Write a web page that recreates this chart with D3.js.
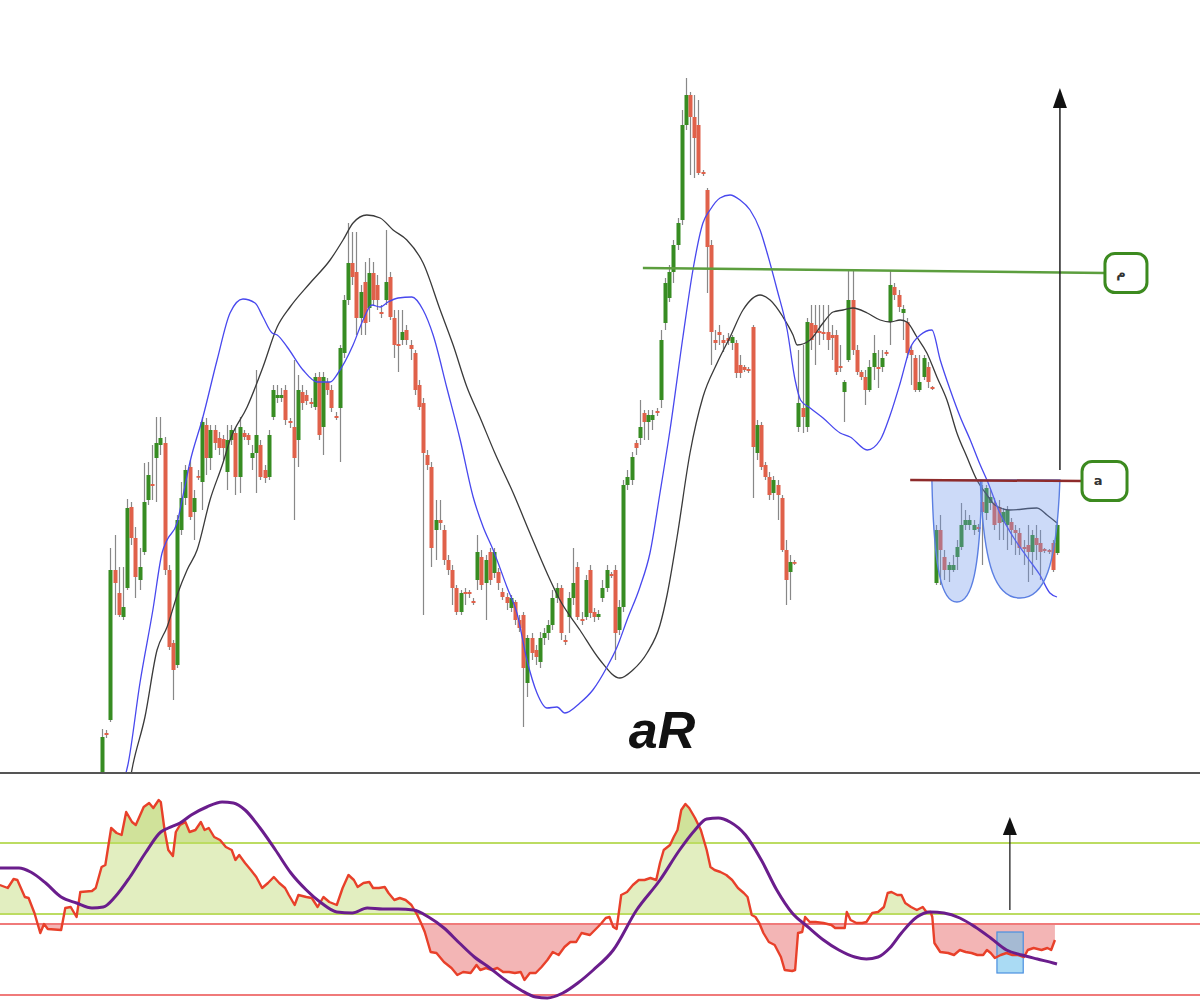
<!DOCTYPE html>
<html><head><meta charset="utf-8">
<script src="https://cdn.jsdelivr.net/npm/d3@7"></script>
<style>html,body{margin:0;padding:0;background:#fff;} svg{display:block}</style>
</head><body>
<svg id="chart" width="1200" height="1008"></svg>
<script>
// ---------------- DATA ----------------
// price candles (one per bar index 0..229)
const candleOpen = [
5,67,80,230,207,183,212,293,262,220,
248,300,316,342,355,357,230,157,135,270,
302,333,288,324,318,375,342,370,362,361,
328,360,367,323,367,365,342,347,355,330,
323,383,402,402,410,379,373,360,408,405,
398,393,423,373,418,410,384,392,447,500,
537,528,482,518,492,527,515,488,500,523,
482,456,460,470,455,447,415,397,345,333,
270,280,270,240,230,212,188,208,208,199,
220,243,217,248,227,228,208,203,192,198,
180,185,117,162,150,138,162,167,175,202,
212,160,183,202,233,181,183,230,188,183,
202,212,226,230,170,193,315,320,357,362,
387,378,380,389,400,477,502,528,555,580,
675,705,683,675,628,610,555,460,468,460,
462,457,457,435,433,431,473,347,375,335,
323,307,315,302,250,228,238,373,392,373,
477,475,469,468,468,465,465,434,408,440,
500,450,428,423,410,433,433,433,448,478,
513,505,487,478,450,442,410,423,433,413,
217,270,243,230,230,243,253,275,275,270,
273,298,287,297,297,293,278,275,278,270,
267,253,255,248,262,257,251,250,257,247];
const candleHigh = [
71,70,252,265,233,233,301,298,273,252,
337,338,355,383,383,363,235,160,285,318,
335,340,310,330,383,382,375,375,368,365,
375,375,372,383,370,367,355,430,360,335,
370,415,415,412,415,382,440,425,415,410,
402,427,428,428,422,415,388,455,505,577,
568,568,515,538,542,538,525,495,570,528,
490,490,490,475,460,450,420,402,350,338,
300,300,275,245,235,215,210,212,210,202,
265,250,245,252,252,232,212,207,205,200,
185,188,165,167,155,168,172,180,210,217,
215,165,208,252,238,188,225,235,192,190,
220,235,228,235,200,320,330,348,360,400,
390,390,390,392,470,522,535,560,582,690,
722,708,705,700,630,612,560,470,475,465,
467,465,460,445,435,433,475,380,378,338,
328,324,320,305,260,245,240,450,455,482,
495,495,495,495,495,475,470,455,420,530,
530,455,430,430,440,465,450,450,450,530,
517,510,495,482,455,445,445,445,438,414,
275,285,250,238,245,260,297,290,285,280,
276,315,315,310,302,300,292,294,282,275,
272,260,275,270,275,270,252,251,260,280];
const candleLow = [
0,62,78,185,183,180,210,255,202,210,
245,295,300,298,345,225,150,100,132,265,
295,280,260,320,290,325,330,350,345,340,
310,355,305,307,360,355,330,307,320,317,
320,380,397,398,375,372,280,333,390,395,
392,390,360,345,405,388,380,338,442,495,
515,465,465,465,478,495,490,482,495,480,
442,428,455,455,440,405,390,185,330,233,
240,270,235,225,195,185,185,195,202,195,
210,210,180,215,222,210,200,190,188,175,
168,73,103,140,135,132,155,160,170,197,
160,155,167,195,180,175,180,182,178,180,
198,208,222,140,165,188,310,315,345,355,
360,360,370,384,392,470,498,517,550,575,
670,625,622,625,624,507,435,450,455,448,
455,450,422,422,428,427,302,340,330,320,
300,300,280,248,195,200,235,368,367,368,
450,435,455,460,450,440,425,428,378,438,
445,425,420,395,408,420,412,428,444,455,
500,488,460,442,415,408,408,420,412,410,
215,215,220,218,228,230,250,270,270,265,
268,235,280,290,270,260,260,250,255,245,
245,235,218,225,240,220,247,246,228,245];
const candleClose = [
63,65,230,217,185,193,292,262,223,233,
298,325,314,357,362,230,153,130,280,302,
330,283,302,323,378,342,370,357,352,352,
360,370,323,373,363,360,347,365,323,322,
365,410,405,405,380,377,342,410,397,399,
396,423,365,423,410,392,382,452,500,537,
523,482,508,477,527,500,500,486,518,483,
455,454,468,460,451,410,393,347,335,252,
280,277,240,230,212,188,207,206,206,197,
248,215,240,220,248,217,203,197,202,180,
172,132,162,147,143,162,167,175,202,212,
167,158,202,217,183,179,220,187,183,186,
212,230,224,167,193,315,323,343,352,373,
378,385,385,387,460,517,528,555,577,675,
705,683,662,627,626,553,468,457,465,457,
459,463,427,427,430,429,353,375,333,323,
305,320,305,250,220,238,237,397,383,478,
460,467,467,466,460,462,428,432,418,500,
450,428,423,410,433,447,431,442,446,515,
505,493,491,447,445,410,418,442,418,411,
270,250,230,235,235,253,275,280,280,275,
271,288,312,303,275,277,288,290,270,267,
252,251,248,265,255,248,249,248,230,275];

// moving averages as [bar, price]
const maBlue = [[5.3,20],[6.2,35],[9.1,117],[12.2,190],[14.4,247],[15.6,260],[18.0,277],[19.2,300],[21.1,338],[24.2,383],[27.6,440],[30.7,487],[33.8,501],[36.7,497],[38.6,483],[40.8,467],[42.0,465],[44.4,453],[48.2,430],[51.6,418],[54.7,418],[56.6,427],[60.2,455],[62.6,480],[64.7,495],[66.7,493],[68.6,498],[71.0,502],[74.3,503],[77.0,490],[79.4,465],[82.7,412],[85.9,360],[89.0,303],[91.4,273],[93.8,250],[97.1,213],[99.5,187],[101.9,140],[104.3,107],[106.7,92],[109.1,93],[111.0,87],[114.6,97],[117.7,110],[121.1,133],[123.5,153],[125.9,180],[129.0,213],[131.4,247],[133.8,307],[136.2,370],[139.3,463],[141.7,530],[144.1,577],[145.8,590],[148.2,602],[150.6,605],[153.0,600],[155.4,590],[157.8,570],[159.5,547],[161.9,510],[164.3,470],[166.2,420],[167.5,400],[169.8,392],[172.9,382],[177.0,367],[179.4,363],[183.5,350],[186.6,360],[189.0,385],[191.4,417],[193.8,452],[196.2,465],[199.0,470],[201.0,440],[203.4,410],[205.8,383],[208.2,360],[210.6,335],[212.2,320],[215.3,287],[218.5,263],[221.8,243],[224.9,225],[227.3,207],[229.0,203]];
const maBlack = [[6.7,20],[7.4,35],[10.3,83],[13.2,150],[15.6,173],[18.2,207],[20.4,230],[22.8,250],[25.9,300],[29.0,337],[30.7,360],[34.8,393],[38.6,433],[42.0,473],[45.1,493],[49.9,517],[54.7,540],[57.8,560],[60.2,577],[63.5,585],[66.7,582],[69.8,570],[73.1,560],[77.0,537],[81.1,490],[84.2,455],[87.5,413],[90.6,383],[94.2,347],[98.6,307],[102.6,267],[106.7,227],[109.8,200],[114.6,170],[119.4,140],[124.2,122],[127.3,130],[130.7,147],[133.8,175],[135.5,205],[137.9,263],[141.0,347],[144.1,403],[147.5,437],[150.6,463],[153.7,490],[157.8,505],[160.2,500],[163.3,483],[165.7,465],[166.7,455],[169.8,460],[172.9,477],[175.3,488],[177.7,490],[180.1,492],[183.5,487],[186.6,480],[189.0,478],[191.4,480],[193.0,478],[195.4,463],[197.8,447],[200.2,423],[202.6,400],[205.0,367],[207.4,343],[209.8,320],[212.2,305],[214.1,295],[217.7,290],[224.2,292],[226.6,285],[229.0,277]];

// oscillator [bar, value] and its signal line
const oscillator = [[-24.5,115],[-22.6,112],[-21.2,121],[-20.3,120],[-18.5,103],[-17.6,102],[-16.2,87],[-14.8,67],[-13.9,76],[-13.0,71],[-9.8,70],[-8.8,92],[-7.5,93],[-6.1,83],[-5.2,108],[-2.4,109],[-1.5,112],[-0.1,133],[0.8,135],[2.2,172],[3.5,167],[4.7,165],[5.8,188],[7.2,178],[8.1,175],[10.0,193],[11.3,197],[12.3,192],[13.6,200],[14.1,198],[15.0,170],[15.9,150],[17.0,144],[17.7,168],[18.7,175],[20.0,178],[21.0,168],[22.4,170],[23.7,178],[24.6,170],[25.6,172],[26.9,163],[28.3,160],[29.7,153],[31.1,150],[32.0,140],[32.9,145],[34.3,137],[35.7,130],[37.0,123],[38.4,112],[39.8,117],[41.2,123],[42.5,117],[43.9,112],[44.8,105],[46.2,95],[47.1,105],[49.0,103],[50.3,102],[51.7,93],[53.1,103],[54.5,98],[56.3,95],[57.7,112],[59.1,125],[60.4,120],[61.3,113],[62.7,117],[64.1,118],[65.0,112],[66.4,112],[67.8,113],[68.7,107],[70.1,100],[71.4,102],[72.8,100],[74.2,95],[75.6,85],[76.5,77],[77.4,68],[78.8,48],[80.2,47],[82.0,38],[83.8,32],[85.2,25],[86.6,28],[88.4,27],[89.8,35],[90.7,30],[92.1,32],[93.5,30],[94.8,32],[96.2,28],[97.6,28],[99.0,27],[100.4,28],[101.3,20],[102.6,27],[104.0,27],[105.4,33],[106.8,40],[108.1,48],[109.5,45],[110.9,53],[112.3,58],[113.7,58],[115.0,67],[117.0,65],[118.9,73],[119.8,77],[120.8,82],[121.7,83],[122.6,73],[123.4,71],[124.5,105],[125.9,108],[127.3,115],[128.7,120],[130.1,120],[131.5,122],[132.9,120],[133.8,137],[134.7,150],[136.2,155],[137.1,163],[138.0,170],[138.9,190],[139.9,196],[140.8,192],[142.2,182],[143.6,170],[145.0,150],[145.9,133],[146.9,130],[148.3,128],[149.7,125],[151.1,120],[152.5,112],[153.9,107],[154.8,103],[155.8,85],[156.7,83],[157.6,77],[158.6,67],[159.9,58],[161.3,55],[162.8,43],[163.7,30],[165.5,29],[166.2,30],[166.9,67],[167.9,68],[168.6,83],[169.7,78],[171.1,78],[173.0,77],[174.9,75],[175.8,72],[177.2,72],[178.1,72],[178.6,88],[179.5,80],[180.9,77],[182.3,77],[183.3,78],[184.7,87],[186.1,88],[187.5,93],[188.4,107],[189.3,108],[190.7,105],[191.7,105],[192.6,97],[194.0,93],[195.4,90],[196.8,93],[197.7,88],[198.7,88],[199.1,83],[199.6,57],[201.0,48],[202.9,47],[204.3,45],[205.7,50],[207.1,48],[208.5,47],[209.9,45],[211.3,45],[212.2,50],[213.1,47],[214.1,42],[215.5,45],[216.9,47],[218.3,45],[219.7,45],[221.1,43],[222.0,50],[223.4,52],[225.3,50],[226.7,52],[227.6,50],[228.5,60]];
const signal = [[-24.5,132],[-19.9,132],[-17.1,128],[-13.5,117],[-9.8,103],[-6.1,97],[-2.4,92],[0.3,93],[3.1,103],[6.7,123],[10.4,147],[14.1,168],[15.9,172],[18.7,177],[21.4,185],[25.1,193],[28.8,198],[31.5,197],[34.3,190],[37.9,172],[41.6,150],[45.3,127],[49.0,110],[52.6,97],[56.3,88],[60.0,87],[63.6,92],[67.3,91],[71.0,91],[74.7,90],[78.3,83],[82.0,72],[85.7,57],[89.3,43],[93.0,32],[96.7,20],[100.4,10],[104.0,3],[106.8,2],[110.5,7],[114.1,17],[117.8,30],[122.6,50],[128.2,90],[133.8,120],[138.5,150],[142.2,170],[145.0,181],[147.8,182],[150.6,178],[154.3,165],[158.1,140],[161.8,110],[165.5,87],[169.3,73],[173.0,60],[176.7,50],[180.5,43],[183.3,41],[186.1,43],[188.9,52],[191.7,67],[195.4,83],[198.7,88],[201.9,87],[205.7,82],[209.4,73],[213.1,62],[216.9,50],[220.6,45],[224.3,41],[228.1,37],[229.0,36]];
const oscLevels = [157, 86, 76, 5];   // upper band high/low, lower band high/low

// annotations
const resistanceLine = [[129.7,532],[240.5,527]];
const necklineLine = [[193.8,320],[235.0,319]];
const cups = [[199.0,211.0,320,198],[210.6,229.7,320,202]]; // from bar, to bar, rim, bottom
const targetArrow = [229.7, 330, 712];   // bar, from price, to price
const oscBox = [214.6, 220.9, 68, 27];   // from bar, to bar, top, bottom
const oscArrow = [217.7, 90, 183];
const labelTexts = ["م", "a"];
const titleText = "aR";

// ---------------- DRAW ----------------
const svg = d3.select('#chart');
const x = d3.scaleLinear().domain([0, 229]).range([102, 1057]);
const y = d3.scaleLinear().domain([0, 730]).range([800, 70]);
const yo = d3.scaleLinear().domain([0, 230]).range([1000, 770]);

const defs = svg.append('defs');
defs.append('clipPath').attr('id','mainClip').append('rect').attr('x',0).attr('y',0).attr('width',1200).attr('height',772);
defs.append('clipPath').attr('id','oscClip').append('rect').attr('x',0).attr('y',774).attr('width',1200).attr('height',234);
defs.append('clipPath').attr('id','aboveLow').append('rect').attr('x',0).attr('y',774).attr('width',1200).attr('height',yo(oscLevels[1])-774);
defs.append('clipPath').attr('id','aboveHigh').append('rect').attr('x',0).attr('y',774).attr('width',1200).attr('height',yo(oscLevels[0])-774);
defs.append('clipPath').attr('id','belowRed').append('rect').attr('x',0).attr('y',yo(oscLevels[2])).attr('width',1200).attr('height',1008-yo(oscLevels[2]));

// ---- main panel
const main = svg.append('g').attr('clip-path','url(#mainClip)');
const candles = candleOpen.map((o,i)=>({i, o, h:candleHigh[i], l:candleLow[i], c:candleClose[i]}));
const cx = d => Math.round(x(d.i));
main.append('g').selectAll('line').data(candles).join('line')
  .attr('x1', d=>cx(d)+0.5).attr('x2', d=>cx(d)+0.5)
  .attr('y1', d=>y(d.h)).attr('y2', d=>y(d.l))
  .attr('stroke','#888').attr('stroke-width',1.2);
main.append('g').selectAll('rect').data(candles).join('rect')
  .attr('x', d=>cx(d)-1.5).attr('width',4)
  .attr('y', d=>y(Math.max(d.o,d.c)))
  .attr('height', d=>Math.max(1.8, Math.abs(y(d.o)-y(d.c))))
  .attr('fill', d=> d.c>=d.o ? '#378c22' : '#e0614a');

const maLine = d3.line().x(d=>x(d[0])).y(d=>y(d[1])).curve(d3.curveMonotoneX);
main.append('path').attr('d', maLine(maBlack)).attr('fill','none').attr('stroke','#3a3a3a').attr('stroke-width',1.3);
main.append('path').attr('d', maLine(maBlue)).attr('fill','none').attr('stroke','#4848ee').attr('stroke-width',1.3);

// annotations
const segLine = d3.line().x(d=>x(d[0])).y(d=>y(d[1]));
main.append('path').attr('d', segLine(resistanceLine)).attr('stroke','#5c9e3e').attr('stroke-width',2.5).attr('fill','none');

cups.forEach(cp => {
  const xl = x(cp[0]), xr = x(cp[1]), yt = y(cp[2]), yb = y(cp[3]);
  const w = xr - xl, h = yb - yt, xm = (xl + xr) / 2;
  const p = d3.path();
  p.moveTo(xl, yt);
  p.bezierCurveTo(xl + 0.04*w, yt + 0.75*h, xm - 0.3*w, yb, xm, yb);
  p.bezierCurveTo(xm + 0.3*w, yb, xr - 0.04*w, yt + 0.75*h, xr, yt);
  p.closePath();
  main.append('path').attr('d', p.toString())
    .attr('fill','rgba(110,150,235,0.35)').attr('stroke','#5b7fe2').attr('stroke-width',1.4);
});
main.append('path').attr('d', segLine(necklineLine)).attr('stroke','#8e2b2b').attr('stroke-width',2.5).attr('fill','none');

// target arrow
const ax = x(targetArrow[0]);
main.append('line').attr('x1',ax).attr('x2',ax).attr('y1',y(targetArrow[1])).attr('y2',y(targetArrow[2])+18)
  .attr('stroke','#222').attr('stroke-width',1.5);
main.append('path').attr('d', `M${ax-7},${y(targetArrow[2])+20} L${ax+7},${y(targetArrow[2])+20} L${ax},${y(targetArrow[2])} Z`).attr('fill','#111');

// label boxes
function labelBox(pt, w, txt, dx){
  const bx = x(pt[0]), by = y(pt[1]);
  svg.append('rect').attr('x', bx).attr('y', by-19.5).attr('width', w).attr('height', 39)
    .attr('rx', 10).attr('fill','#fff').attr('stroke','#3c8a1f').attr('stroke-width',3);
  svg.append('text').attr('x', bx + dx).attr('y', by + 4).attr('text-anchor','middle')
    .attr('font-family','DejaVu Sans, sans-serif').attr('font-size',13).attr('font-weight','bold')
    .attr('fill','#333').text(txt);
}
labelBox(resistanceLine[1], 42, labelTexts[0], 16);
labelBox(necklineLine[1], 45, labelTexts[1], 16);

svg.append('text').attr('x', 662).attr('y', 748).attr('text-anchor','middle')
  .attr('font-family','Liberation Sans, Arial, sans-serif').attr('font-size',52)
  .attr('font-weight','bold').attr('font-style','italic').attr('fill','#111').text(titleText);

// separator
svg.append('line').attr('x1',0).attr('x2',1200).attr('y1',773).attr('y2',773).attr('stroke','#555').attr('stroke-width',2);

// ---- oscillator panel
const osc = svg.append('g').attr('clip-path','url(#oscClip)');
const areaTo = base => d3.area().x(d=>x(d[0])).y0(yo(base)).y1(d=>yo(d[1]));
osc.append('path').attr('d', areaTo(oscLevels[1])(oscillator)).attr('fill','#e2eec0').attr('clip-path','url(#aboveLow)');
osc.append('path').attr('d', areaTo(oscLevels[0])(oscillator)).attr('fill','#d0e29a').attr('clip-path','url(#aboveHigh)');
osc.append('path').attr('d', areaTo(oscLevels[2])(oscillator)).attr('fill','#f3b5b5').attr('clip-path','url(#belowRed)');

const levelColors = ['#bcdc62','#bcdc62','#f07a7a','#f07a7a'];
osc.selectAll('line.lvl').data(oscLevels).join('line')
  .attr('x1',0).attr('x2',1200).attr('y1',d=>yo(d)).attr('y2',d=>yo(d))
  .attr('stroke',(d,i)=>levelColors[i]).attr('stroke-width',2);

osc.append('rect').attr('x', x(oscBox[0])).attr('y', yo(oscBox[2]))
  .attr('width', x(oscBox[1])-x(oscBox[0])).attr('height', yo(oscBox[3])-yo(oscBox[2]))
  .attr('fill','rgba(100,190,235,0.55)').attr('stroke','#4a8fe0').attr('stroke-width',1.2);

const oscLine = d3.line().x(d=>x(d[0])).y(d=>yo(d[1]));
osc.append('path').attr('d', oscLine(oscillator)).attr('fill','none').attr('stroke','#e8402a').attr('stroke-width',2.4).attr('stroke-linejoin','round');
osc.append('path').attr('d', d3.line().x(d=>x(d[0])).y(d=>yo(d[1])).curve(d3.curveMonotoneX)(signal))
  .attr('fill','none').attr('stroke','#6a1d8c').attr('stroke-width',3);

const bx2 = x(oscArrow[0]);
osc.append('line').attr('x1',bx2).attr('x2',bx2).attr('y1',yo(oscArrow[1])).attr('y2',yo(oscArrow[2])+16)
  .attr('stroke','#222').attr('stroke-width',1.3);
osc.append('path').attr('d', `M${bx2-7},${yo(oscArrow[2])+18} L${bx2+7},${yo(oscArrow[2])+18} L${bx2},${yo(oscArrow[2])} Z`).attr('fill','#111');
</script>
</body></html>
